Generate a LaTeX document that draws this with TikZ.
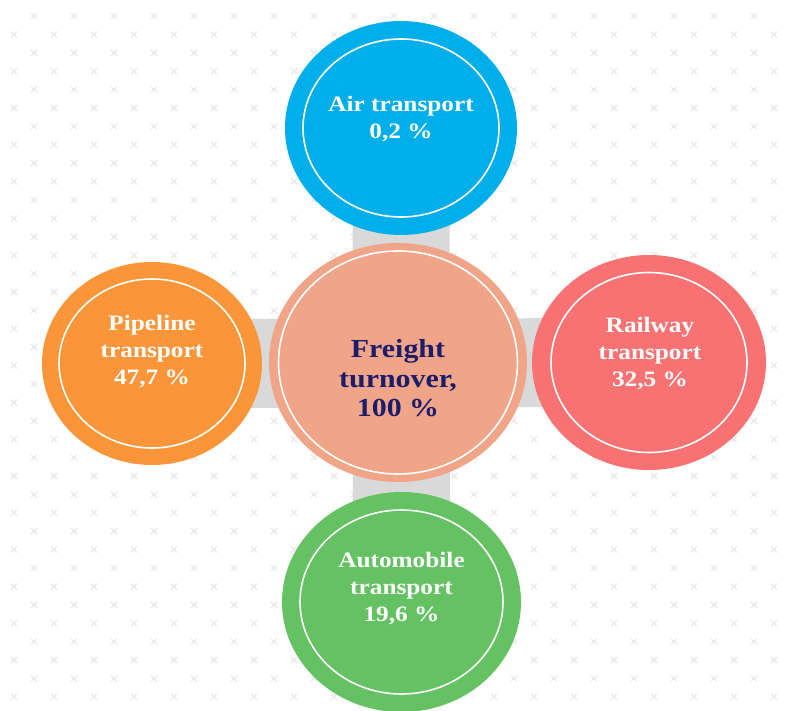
\documentclass[tikz,border=0pt]{standalone}
\usepackage{fontspec}
\setmainfont{Liberation Serif}[FakeStretch=1.15]
\usepackage{tikz}
\usetikzlibrary{shapes.geometric, backgrounds}
\definecolor{airblue}{RGB}{0,174,234}
\definecolor{pipeorange}{RGB}{250,150,57}
\definecolor{railred}{RGB}{248,114,116}
\definecolor{autogreen}{RGB}{100,194,98}
\definecolor{hubpeach}{RGB}{240,165,137}
\definecolor{hubnavy}{RGB}{28,28,106}
\definecolor{bargray}{RGB}{217,217,217}
\definecolor{crossgray}{RGB}{232,232,232}

\begin{document}
\begin{tikzpicture}[x=1pt, y=-1pt,
                sat/.style={ellipse, inner sep=0pt, fill=#1},
                ring/.style={draw=white, line width=1.6pt},
                sattext/.style={text=white, align=center,
                  font=\bfseries\fontsize{22}{27}\selectfont},
                hubtext/.style={text=hubnavy, align=center,
                  font=\bfseries\fontsize{26}{29.5}\selectfont},
                bar/.style={draw=bargray, line width=#1},
                crossmark/.style={draw=crossgray, line width=1.2pt}
                ]
  \useasboundingbox (0,0) rectangle (786,711);
  % hub and satellites
  \node [sat=hubpeach, minimum width=258pt, minimum height=239pt] (hub) at (398,362.5) {};
  \node [sat=airblue, minimum width=232pt, minimum height=214pt] (air) at (401,128) {};
  \node [sat=pipeorange, minimum width=220pt, minimum height=203pt] (pipe) at (152,363.5) {};
  \node [sat=railred, minimum width=234pt, minimum height=215pt] (rail) at (649,362.5) {};
  \node [sat=autogreen, minimum width=239pt, minimum height=220pt] (auto) at (401.5,602) {};
  % white rings
  \draw [ring] (hub.center) ellipse [x radius=119.5, y radius=111.5];
  \draw [ring] (air.center) ellipse [x radius=98, y radius=89];
  \draw [ring] (pipe.center) ellipse [x radius=93, y radius=84.5];
  \draw [ring] (rail.center) ellipse [x radius=98, y radius=90];
  \draw [ring] (auto.center) ellipse [x radius=101.5, y radius=92];
  % texts
  \node [hubtext] (hubtext) at (398,378.5) {Freight\\turnover,\\100 \%};
  \node [sattext] (airtext) at (401,119.5) {Air transport\\0,2 \%};
  \node [sattext] (pipetext) at (152,351.5) {Pipeline\\transport\\47,7 \%};
  \node [sattext] (railtext) at (650,354) {Railway\\transport\\32,5 \%};
  \node [sattext] (autotext) at (401.5,589) {Automobile\\transport\\19,6 \%};
  \begin{pgfonlayer}{background}
    \foreach \k in {0,...,37}{
      \pgfmathsetmacro{\xo}{34-20*mod(\k,2)}
      \pgfmathtruncatemacro{\jn}{18+mod(\k,2)}
      \foreach \j in {0,...,\jn}{
        \draw [crossmark] (\xo+40*\j-3,16+18.4*\k-3) -- ++(6,6) ++(-6,0) -- ++(6,-6);
      }
    }
    \draw [bar=97pt] (air.center) -- (auto.center);
    \draw [bar=89pt] (pipe.center) -- (rail.center);
  \end{pgfonlayer}
\end{tikzpicture}
\end{document}
